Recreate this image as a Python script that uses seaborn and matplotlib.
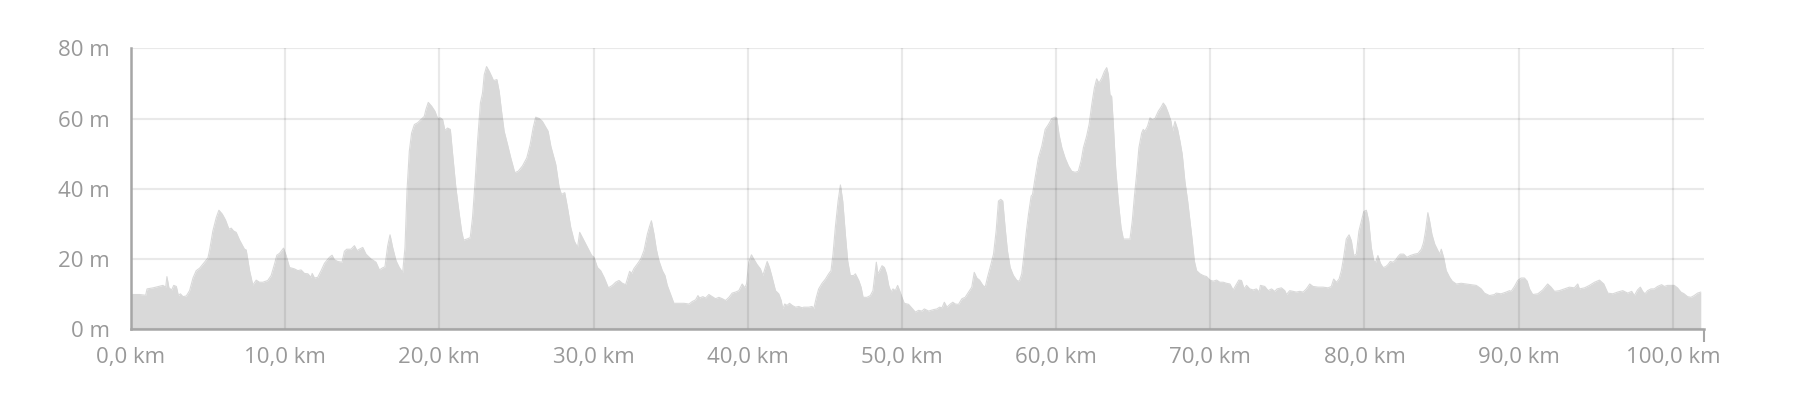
import matplotlib
matplotlib.use("Agg")
import matplotlib.pyplot as plt
import seaborn as sns
import pandas as pd

# elevation profile
distance_km = [
    0.0, 0.56, 0.95, 1.04, 1.43, 2.07, 2.25, 2.33, 2.46, 2.64, 2.77, 2.94, 3.07, 3.20, 3.37, 3.59,
    3.80, 4.02, 4.23, 4.45, 4.77, 4.99, 5.10, 5.31, 5.53, 5.70, 5.92, 6.13, 6.35, 6.50, 6.65, 6.82,
    7.04, 7.36, 7.47, 7.69, 7.90, 8.12, 8.33, 8.55, 8.87, 9.09, 9.31, 9.46, 9.63, 9.89, 10.06, 10.28,
    10.60, 10.82, 11.03, 11.25, 11.47, 11.68, 11.75, 11.90, 12.11, 12.33, 12.55, 12.87, 13.04, 13.19,
    13.41, 13.69, 13.84, 13.99, 14.27,
    14.49, 14.66, 14.81, 15.03, 15.24, 15.57, 15.89, 16.11, 16.32, 16.47, 16.65, 16.80, 16.97, 17.19,
    17.40, 17.62, 17.77, 17.90, 18.05, 18.20, 18.38, 18.59, 18.81, 19.02, 19.13, 19.28, 19.50, 19.71,
    19.89, 20.06, 20.21, 20.36, 20.53, 20.71, 20.86, 21.07, 21.29, 21.44, 21.57, 21.79, 22.00, 22.15,
    22.32, 22.48, 22.66, 22.80, 22.91, 23.06, 23.24, 23.39, 23.51, 23.73, 23.88, 24.03, 24.20, 24.42,
    24.63, 24.89, 25.11, 25.39, 25.67, 25.89, 26.08, 26.25, 26.47, 26.68, 26.90, 27.05, 27.23, 27.55,
    27.77, 27.92, 28.13, 28.31, 28.52, 28.74, 28.96,
    29.10, 29.28, 29.49, 29.71, 29.88, 30.03, 30.25, 30.46, 30.68, 30.96, 31.22, 31.43, 31.65, 31.87,
    32.08, 32.26, 32.34, 32.47, 32.62, 32.84, 33.06, 33.27, 33.49, 33.64, 33.75, 33.92, 34.07, 34.24,
    34.46, 34.63, 34.78, 35.00, 35.21, 35.54, 35.86, 36.19, 36.40, 36.62, 36.77, 36.88, 37.09, 37.26,
    37.48, 37.70, 37.91, 38.13, 38.35, 38.56, 38.78, 38.99, 39.21, 39.42, 39.64, 39.81, 39.92, 40.07,
    40.24, 40.39, 40.61, 40.82, 40.98, 41.11, 41.26, 41.41, 41.58, 41.80, 42.01, 42.17, 42.27, 42.40,
    42.55, 42.71, 42.88, 43.09, 43.31, 43.53,
    43.63, 43.96, 44.17, 44.28, 44.45, 44.60, 44.82, 45.04, 45.25, 45.40, 45.53, 45.68, 45.86, 46.01,
    46.16, 46.33, 46.48, 46.65, 46.87, 46.98, 47.20, 47.35, 47.48, 47.73, 47.95, 48.12, 48.25, 48.34,
    48.43, 48.56, 48.71, 48.86, 49.00, 49.14, 49.29, 49.42, 49.57, 49.72, 49.85, 50.00, 50.15, 50.43,
    50.59, 50.87, 51.08, 51.30, 51.45, 51.73, 52.05, 52.27, 52.44, 52.60, 52.75, 52.92, 53.14, 53.30,
    53.46, 53.67, 53.89, 54.10, 54.32, 54.53, 54.69, 54.86, 55.03, 55.25, 55.40, 55.55, 55.72, 55.94,
    56.11, 56.26, 56.41, 56.54, 56.69, 56.84, 57.02, 57.23, 57.45, 57.62, 57.77, 57.92, 58.05,
    58.21, 58.38, 58.47, 58.64, 58.85, 59.07, 59.29, 59.50, 59.72, 59.93, 60.04, 60.19, 60.37, 60.58,
    60.80, 61.01, 61.23, 61.44, 61.62, 61.77, 61.98, 62.14, 62.31, 62.48, 62.63, 62.78, 62.96, 63.13,
    63.28, 63.39, 63.49, 63.60, 63.71, 63.86, 64.03, 64.21, 64.36, 64.58, 64.79, 64.94, 65.07, 65.22,
    65.37, 65.55, 65.65, 65.76, 65.93, 66.09, 66.24, 66.41, 66.63, 66.80, 66.95, 67.10, 67.27, 67.45,
    67.55, 67.71, 67.88, 68.03, 68.18, 68.35, 68.53, 68.68, 68.83, 68.96, 69.11, 69.33, 69.54, 69.76,
    69.97, 70.19, 70.41, 70.62, 70.84, 71.05, 71.27, 71.48, 71.70, 71.85, 72.02, 72.19, 72.35, 72.56,
    72.78, 72.99, 73.17, 73.25, 73.53, 73.75, 73.97, 74.18, 74.33, 74.61, 74.83, 74.94, 75.15, 75.37,
    75.58, 75.80, 76.02, 76.23, 76.45, 76.66, 76.99, 77.31, 77.64, 77.85, 78.00, 78.18, 78.35, 78.50,
    78.65, 78.82, 79.00, 79.15, 79.30, 79.47, 79.64, 79.80, 79.95, 80.12, 80.27, 80.44, 80.60, 80.73,
    80.87, 81.03, 81.20, 81.37, 81.52, 81.67, 81.85, 82.02, 82.17, 82.32, 82.54, 82.75, 82.97, 83.25,
    83.47, 83.69, 83.83, 83.96, 84.11, 84.22, 84.37, 84.55, 84.76, 84.87, 84.98, 85.13, 85.30, 85.52,
    85.69, 85.95, 86.27, 86.60, 86.92, 87.24,
    87.35, 87.57, 87.78, 88.11, 88.43, 88.54, 88.86, 89.19, 89.41, 89.51, 89.73, 89.94, 90.16, 90.37,
    90.55, 90.70, 90.91, 91.24, 91.56, 91.88, 92.10, 92.32, 92.64, 92.97, 93.29, 93.61, 93.83, 93.94,
    94.27, 94.59, 94.92, 95.24, 95.52, 95.78, 96.10, 96.42, 96.75, 97.07, 97.33, 97.50, 97.71, 97.89,
    98.04, 98.19, 98.36, 98.58, 98.79, 99.01, 99.27, 99.44, 99.65, 100.09, 100.30, 100.52, 100.73,
    100.95, 101.17, 101.38, 101.60, 101.81,
]
elevation_m = [
    9.9, 9.9, 9.7, 11.5, 11.8, 12.5, 12.0, 15.0, 11.8, 11.2, 12.5, 12.2, 9.6, 10.1, 9.3, 9.5,
    11.0, 14.6, 16.7, 17.4, 19.1, 20.3, 22.6, 28.0, 31.8, 33.9, 32.8, 31.1, 28.5, 28.8, 28.0, 27.6,
    25.4, 22.8, 22.6, 16.7, 12.6, 14.0, 13.4, 13.4, 13.9, 15.3, 18.6, 21.1, 21.6, 23.1, 21.0, 17.6,
    17.2, 16.7, 16.9, 15.9, 15.8, 14.8, 15.9, 14.6, 14.8, 16.7, 18.8, 20.5, 21.1, 19.8,
    19.3, 19.1, 22.2, 22.8, 22.8,
    23.8, 22.4, 22.8, 23.3, 21.4, 20.0, 19.1, 16.9, 17.5, 17.8, 23.8, 26.9, 23.3, 19.5,
    17.6, 16.2, 23.3, 39.4, 50.7, 55.9, 58.3, 58.8, 59.7, 60.6, 62.6, 64.6, 63.5, 62.1,
    60.0, 60.2, 59.7, 56.6, 57.3, 56.9, 49.8, 40.3, 32.8, 28.0, 25.4, 25.7, 26.1, 31.8,
    42.2, 53.6, 64.4, 67.3, 72.5, 74.8, 73.4, 72.0, 70.8, 71.1, 67.7, 62.1, 56.4, 52.6,
    48.8, 44.6, 45.0, 46.5, 48.8, 52.6, 57.3, 60.4, 60.0, 59.2, 57.5, 56.4, 52.1, 46.9,
    40.3, 38.4, 38.9, 34.6, 29.0, 25.2, 23.3,
    27.6, 26.1, 24.3, 22.4, 21.0, 20.5, 17.6, 16.7, 14.8, 11.8, 12.5, 13.4, 13.9, 13.1,
    12.7, 15.3, 16.5, 15.9, 17.3, 18.6, 20.0, 22.4, 27.1, 29.4, 30.9, 27.1, 22.8, 19.5,
    16.7, 15.3, 12.5, 9.9, 7.4, 7.4, 7.4, 7.2, 7.9, 8.4, 9.6, 8.9, 9.3, 8.9,
    9.9, 9.3, 8.7, 9.1, 8.7, 8.2, 9.1, 10.3, 10.6, 11.0, 12.9, 11.8, 12.9, 19.1,
    21.2, 20.0, 18.4, 17.2, 15.3, 17.2, 19.3, 17.6, 14.8, 11.0, 10.1, 8.2, 5.8, 7.2,
    6.8, 7.4, 6.8, 6.3, 6.5, 6.1,
    6.3, 6.3, 6.5, 5.8, 9.1, 11.5, 13.1, 14.3, 15.8, 16.7, 21.4, 29.0, 36.5, 41.1,
    36.5, 27.1, 19.5, 15.3, 15.3, 15.8, 13.9, 12.0, 9.1, 9.1, 9.6, 11.0, 15.8, 19.1,
    15.8, 16.7, 18.1, 17.6, 15.8, 12.5, 10.6, 11.5, 11.0, 12.5, 11.0, 9.1, 7.4, 7.1,
    6.3, 4.9, 5.4, 5.2, 5.8, 5.2, 5.6, 5.8, 6.3, 6.1, 7.7, 6.3, 7.2, 7.7,
    7.2, 7.1, 8.7, 9.1, 10.6, 12.0, 16.2, 14.6, 14.0, 12.5, 12.0, 14.8, 17.6, 21.4,
    28.0, 36.5, 37.0, 36.5, 29.0, 22.4, 17.6, 15.3, 13.9, 13.7, 15.8, 21.4, 27.1,
    32.8, 37.9, 38.4, 43.2, 48.8, 52.1, 56.9, 58.3, 60.0, 60.4, 60.2, 55.4, 51.7, 48.8,
    46.5, 45.0, 44.7, 45.0, 47.9, 51.7, 55.0, 58.3, 63.9, 68.7, 71.3, 70.1, 71.5, 73.4,
    74.5, 72.5, 66.8, 66.3, 58.3, 46.0, 36.5, 29.0, 25.7, 25.7, 25.7, 30.9, 37.5, 44.1,
    51.7, 55.9, 56.9, 56.4, 57.8, 60.2, 59.7, 60.0, 62.1, 63.2, 64.4, 63.5, 61.6, 59.2,
    56.4, 59.2, 56.9, 53.6, 49.8, 42.2, 36.5, 30.9, 25.2, 19.5, 16.7, 15.8, 15.3, 15.0,
    14.0, 13.7, 14.0, 13.4, 13.4, 13.1, 12.9, 11.2, 12.9, 14.0, 13.9, 11.5, 12.5, 11.5,
    11.2, 11.5, 10.6, 12.5, 12.2, 11.0, 11.5, 10.8, 11.5, 11.8, 11.0, 9.9, 11.0, 10.8,
    10.6, 10.8, 10.6, 11.5, 12.9, 12.2, 12.0, 12.0, 11.8, 12.2, 14.3, 13.4, 14.3, 16.7,
    20.5, 25.7, 26.9, 25.2, 21.0, 21.4, 28.0, 30.9, 33.5, 33.9, 30.9, 23.3, 19.5, 19.1,
    21.0, 18.8, 17.6, 17.8, 18.4, 19.3, 19.1, 19.7, 20.7, 21.4, 21.4, 20.5, 21.0, 21.4,
    21.6, 22.8, 24.7, 28.0, 33.2, 30.9, 27.1, 24.3, 22.4, 21.4, 22.8, 20.5, 16.7, 14.8,
    13.7, 12.9, 13.1, 12.9, 12.7, 12.5,
    12.2, 11.5, 10.3, 9.6, 9.9, 10.3, 10.1, 10.6, 11.0, 10.8, 12.2, 13.9, 14.6, 14.6,
    13.7, 11.5, 9.9, 10.1, 11.2, 12.9, 12.0, 10.8, 11.0, 11.5, 12.0, 11.8, 12.9, 11.5,
    11.8, 12.5, 13.4, 14.0, 12.9, 10.3, 10.1, 10.6, 11.0, 10.3, 10.8, 9.6, 11.2, 12.0,
    10.8, 10.1, 11.0, 11.5, 11.5, 12.2, 12.7, 12.2, 12.5, 12.5, 11.8, 10.6, 10.1,
    9.3, 9.1, 9.6, 10.3, 10.6,
]

x_ticks = [0, 10, 20, 30, 40, 50, 60, 70, 80, 90, 100]
x_labels = ["0,0 km", "10,0 km", "20,0 km", "30,0 km", "40,0 km", "50,0 km",
            "60,0 km", "70,0 km", "80,0 km", "90,0 km", "100,0 km"]
y_ticks = [0, 20, 40, 60, 80]
y_labels = ["0 m", "20 m", "40 m", "60 m", "80 m"]

df = pd.DataFrame({"km": distance_km, "elev": elevation_m})

sns.set_theme(style="white")
plt.rcParams["font.family"] = ["Open Sans", "DejaVu Sans"]

fill_col = "#d9d9d9"
axis_col = "#a6a6a6"
text_col = "#999999"

fig = plt.figure(figsize=(18.01, 4), dpi=100)
ax = fig.add_axes([131 / 1801, 1 - 329.3 / 400, (1703.7 - 131) / 1801, (329.3 - 48.3) / 400])

ax.fill_between(df["km"], df["elev"], 0, color=fill_col, linewidth=0, zorder=1)
sns.lineplot(data=df, x="km", y="elev", ax=ax, color=fill_col, linewidth=0.8, zorder=1)

ax.set_xlim(0, 102)
ax.set_ylim(0, 80)
ax.set_xlabel("")
ax.set_ylabel("")

ax.set_xticks(x_ticks)
ax.set_xticklabels(x_labels)
ax.set_yticks(y_ticks)
ax.set_yticklabels(y_labels)
# small tick stubs only at the axis ends
ax.set_xticks([0, 102], minor=True)
ax.set_yticks([0, 80], minor=True)
ax.tick_params(which="major", length=0, labelsize=16, labelcolor=text_col)
ax.tick_params(axis="x", which="major", pad=13)
ax.tick_params(axis="y", which="major", pad=15)
ax.tick_params(which="minor", length=9.5, width=1.5, color=axis_col, direction="out")
ax.tick_params(axis="x", which="minor", bottom=True)
ax.tick_params(axis="y", which="minor", left=True)

ax.grid(True, which="major", color="black", alpha=0.085, linewidth=1.6)
ax.set_axisbelow(False)

for side in ["top", "right"]:
    ax.spines[side].set_visible(False)
for side in ["left", "bottom"]:
    ax.spines[side].set_color(axis_col)
    ax.spines[side].set_linewidth(1.8)
    ax.spines[side].set_zorder(3)

fig.savefig("out.png", dpi=100)
